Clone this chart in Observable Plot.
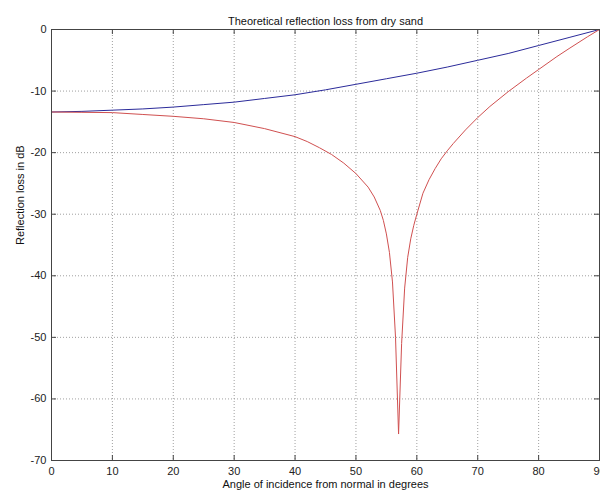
<!DOCTYPE html>
<html>
<head>
<meta charset="utf-8">
<script src="https://cdn.jsdelivr.net/npm/d3@7"></script>
<script src="https://cdn.jsdelivr.net/npm/@observablehq/plot@0.6"></script>
<style>
  html, body { margin: 0; padding: 0; background: #fff; }
</style>
</head>
<body>
<div id="chart"></div>
<script>
const titleText = "Theoretical reflection loss from dry sand";
const xLabelText = "Angle of incidence from normal in degrees";
const yLabelText = "Reflection loss in dB";

const xTicks = [0, 10, 20, 30, 40, 50, 60, 70, 80, 90];
const yTicks = [-70, -60, -50, -40, -30, -20, -10, 0];

// Blue curve
const blueAngles = [0, 5, 10, 15, 20, 25, 30, 35, 40, 45, 50, 55, 60, 65, 70, 75, 80, 85, 90];
const blueLoss = [-13.4, -13.3, -13.1, -12.9, -12.6, -12.2, -11.8, -11.2, -10.6, -9.8, -8.9, -8.0, -7.1, -6.1, -5.0, -3.9, -2.6, -1.3, 0];

// Red curve
const redAngles = [0, 5, 10, 15, 20, 25, 30, 35, 40, 42, 44, 46, 48, 50, 52, 53, 54, 54.5, 55, 55.5, 56, 56.5, 57, 57.5, 58, 58.5, 59, 59.5, 60, 61, 62, 63, 64, 65, 66, 68, 70, 72, 75, 78, 80, 83, 85, 88, 90];
const redLoss = [-13.4, -13.45, -13.5, -13.8, -14.1, -14.5, -15.1, -16.1, -17.4, -18.2, -19.2, -20.3, -21.7, -23.4, -25.6, -27.2, -29.4, -31.0, -33.2, -36.2, -41.0, -50.0, -65.7, -51.0, -42.0, -37.0, -34.0, -31.8, -30.0, -26.6, -24.4, -22.6, -21.0, -19.7, -18.5, -16.3, -14.3, -12.5, -10.1, -7.9, -6.5, -4.4, -3.1, -1.2, 0];

const blue = blueAngles.map((a, i) => ({angle: a, loss: blueLoss[i]}));
const red = redAngles.map((a, i) => ({angle: a, loss: redLoss[i]}));

const gridX = xTicks.filter(d => d > 0 && d < 90);
const gridY = yTicks.filter(d => d > -70 && d < 0);

const W = 600, H = 496;
const mL = 51, mR = 1, mT = 29, mB = 36;
const plotW = W - mL - mR, plotH = H - mT - mB;
const tickLen = 5;
const axisColor = "#444";
const font = "Liberation Sans, Arial, Helvetica, sans-serif";

const chart = Plot.plot({
  width: W,
  height: H,
  marginLeft: mL,
  marginRight: mR,
  marginTop: mT,
  marginBottom: mB,
  style: {fontFamily: font, fontSize: "11px", background: "#fff", color: "#222"},
  x: {domain: [0, 90], ticks: xTicks, tickSize: 0, tickPadding: 7, label: null, tickFormat: d => String(d)},
  y: {domain: [-70, 0], ticks: yTicks, tickSize: 0, tickPadding: 5, label: null, tickFormat: d => String(d)},
  marks: [
    Plot.ruleX(gridX, {x: d => d, stroke: "#888", strokeOpacity: 0.8, strokeDasharray: "1,2"}),
    Plot.ruleY(gridY, {y: d => d, stroke: "#888", strokeOpacity: 0.8, strokeDasharray: "1,2"}),
    Plot.line(blue, {x: "angle", y: "loss", stroke: "#2b2b9a", strokeWidth: 1}),
    Plot.line(red, {x: "angle", y: "loss", stroke: "#d05050", strokeWidth: 1}),
    Plot.frame({stroke: axisColor}),
    Plot.ruleX(xTicks, {x: d => d, insetTop: plotH - tickLen, stroke: axisColor}),
    Plot.ruleX(xTicks, {x: d => d, insetBottom: plotH - tickLen, stroke: axisColor}),
    Plot.ruleY(yTicks, {y: d => d, insetRight: plotW - tickLen, stroke: axisColor}),
    Plot.ruleY(yTicks, {y: d => d, insetLeft: plotW - tickLen, stroke: axisColor}),
    Plot.text([titleText], {text: d => d, frameAnchor: "top", dy: -12, fontSize: 11, fill: "#111"}),
    Plot.text([xLabelText], {text: d => d, frameAnchor: "bottom", dy: 27, fontSize: 11, fill: "#111"}),
    Plot.text([yLabelText], {text: d => d, frameAnchor: "left", dx: -31, rotate: -90, fontSize: 11, fill: "#111"})
  ]
});

document.getElementById("chart").appendChild(chart);
</script>
</body>
</html>
